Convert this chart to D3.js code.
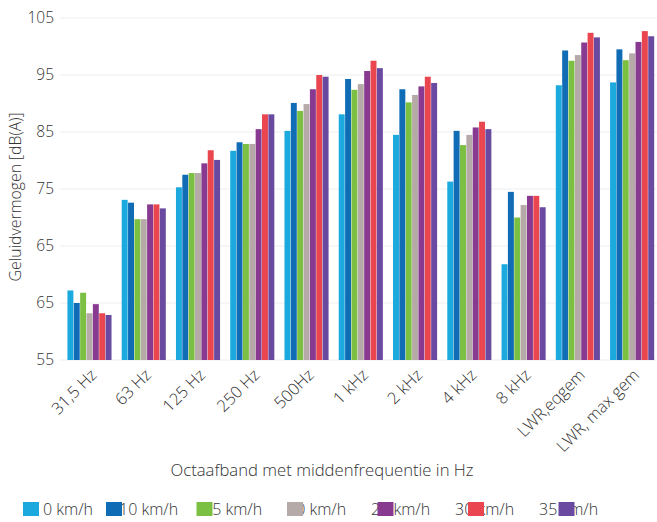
<!DOCTYPE html>
<html>
<head>
<meta charset="utf-8">
<script src="https://d3js.org/d3.v7.min.js"></script>
<style>
  body { margin: 0; background: #fff; }
  text { font-family: "Open Sans", "DejaVu Sans", sans-serif; fill: #333; font-weight: 300; }
</style>
</head>
<body>
<svg id="chart"></svg>
<script>
// octave bands
var categories = ["31,5 Hz", "63 Hz", "125 Hz", "250 Hz", "500Hz", "1 kHz", "2 kHz", "4 kHz", "8 kHz", "LWR,eqgem", "LWR, max gem"];
var series = ["0 km/h", "10 km/h", "15 km/h", "20 km/h", "25 km/h", "30 km/h", "35 km/h"];
// legend text (partly hidden under the swatches, as in the original)
var legendLabels = ["0 km/h", "10 km/h", "15 km/h", "20 km/h", "25 km/h", "30 km/h", "35 km/h"];
var colors = ["#1ba9de", "#0f6cb5", "#7cc043", "#b5aaa7", "#883a90", "#e94650", "#694aa0"];

// values per series, one per category
var v0  = [57.2, 73.1, 75.3, 81.7, 85.2, 88.1, 84.5, 76.3, 61.8, 93.2, 93.7];
var v10 = [55.0, 72.6, 77.5, 83.2, 90.1, 94.3, 92.5, 85.2, 74.5, 99.3, 99.5];
var v15 = [56.8, 69.7, 77.8, 82.9, 88.7, 92.4, 90.2, 82.7, 70.0, 97.5, 97.6];
var v20 = [53.2, 69.7, 77.8, 82.9, 89.9, 93.4, 91.5, 84.5, 72.2, 98.5, 98.8];
var v25 = [54.8, 72.3, 79.5, 85.5, 92.5, 95.7, 93.0, 85.8, 73.8, 100.7, 100.8];
var v30 = [53.2, 72.3, 81.8, 88.1, 95.0, 97.5, 94.7, 86.8, 73.8, 102.4, 102.7];
var v35 = [52.9, 71.6, 80.1, 88.1, 94.7, 96.2, 93.6, 85.5, 71.8, 101.6, 101.8];
var values = [v0, v10, v15, v20, v25, v30, v35];

// y axis ticks and the labels printed next to them
var yTicks = [45, 55, 65, 75, 85, 95, 105];
var yTickLabels = ["55", "65", "65", "75", "85", "95", "105"];

var w = 657, h = 522;
var svg = d3.select("#chart").attr("width", w).attr("height", h);

var x0 = d3.scaleBand().domain(categories).range([62, 660]).paddingInner(0.18).paddingOuter(0.1);
var x1 = d3.scaleBand().domain(series).range([0, x0.bandwidth()]);
var y = d3.scaleLinear().domain([45, 105]).range([360, 18]);

// grid
svg.append("g").selectAll("line")
    .data(yTicks)
  .enter().append("line")
    .attr("x1", 60).attr("x2", 657)
    .attr("y1", function(d) { return y(d); })
    .attr("y2", function(d) { return y(d); })
    .attr("stroke", "#eeeeee")
    .attr("stroke-width", 1);

// y axis labels
var yaxis = d3.axisLeft(y)
    .tickValues(yTicks)
    .tickFormat(function(d, i) { return yTickLabels[i]; })
    .tickSize(0)
    .tickPadding(0);
var ya = svg.append("g").attr("transform", "translate(54,0)").call(yaxis);
ya.select(".domain").remove();
ya.selectAll("text").attr("font-size", "15.5px").style("font-family", null).attr("fill", null);

// bars
var groups = svg.append("g").selectAll("g")
    .data(categories)
  .enter().append("g")
    .attr("transform", function(d) { return "translate(" + x0(d) + ",0)"; });

groups.selectAll("rect")
    .data(function(d, ci) { return series.map(function(s, si) { return {s: s, si: si, v: values[si][ci]}; }); })
  .enter().append("rect")
    .attr("x", function(d) { return x1(d.s); })
    .attr("width", x1.bandwidth() - 0.4)
    .attr("y", function(d) { return y(d.v); })
    .attr("height", function(d) { return y(45) - y(d.v); })
    .attr("fill", function(d) { return colors[d.si]; });

// x labels, rotated
svg.append("g").selectAll("text")
    .data(categories)
  .enter().append("text")
    .attr("transform", function(d) { return "translate(" + (x0(d) + x0.bandwidth() / 2 + 4) + ",372) rotate(-45)"; })
    .attr("text-anchor", "end")
    .attr("dy", "0.35em")
    .attr("font-size", "16.5px")
    .text(function(d) { return d; });

// axis titles
svg.append("text")
    .attr("x", 322).attr("y", 476)
    .attr("text-anchor", "middle")
    .attr("font-size", "16.7px")
    .text("Octaafband met middenfrequentie in Hz");

svg.append("text")
    .attr("transform", "translate(21,197) rotate(-90)")
    .attr("text-anchor", "middle")
    .attr("font-size", "15.8px")
    .text("Geluidvermogen [dB(A)]");

// legend: text first, swatches on top
var leg = svg.append("g");
leg.selectAll("text")
    .data(legendLabels)
  .enter().append("text")
    .attr("x", function(d, i) { return i == 0 ? 43 : 119 + (i - 1) * 84; })
    .attr("y", 515)
    .attr("font-size", "16px")
    .text(function(d) { return d; });
leg.selectAll("rect")
    .data(colors)
  .enter().append("rect")
    .attr("x", function(d, i) { return i == 0 ? 23 : 106 + (i - 1) * 90.5; })
    .attr("y", 502)
    .attr("width", 16).attr("height", 14)
    .attr("fill", function(d) { return d; });
</script>
</body>
</html>
